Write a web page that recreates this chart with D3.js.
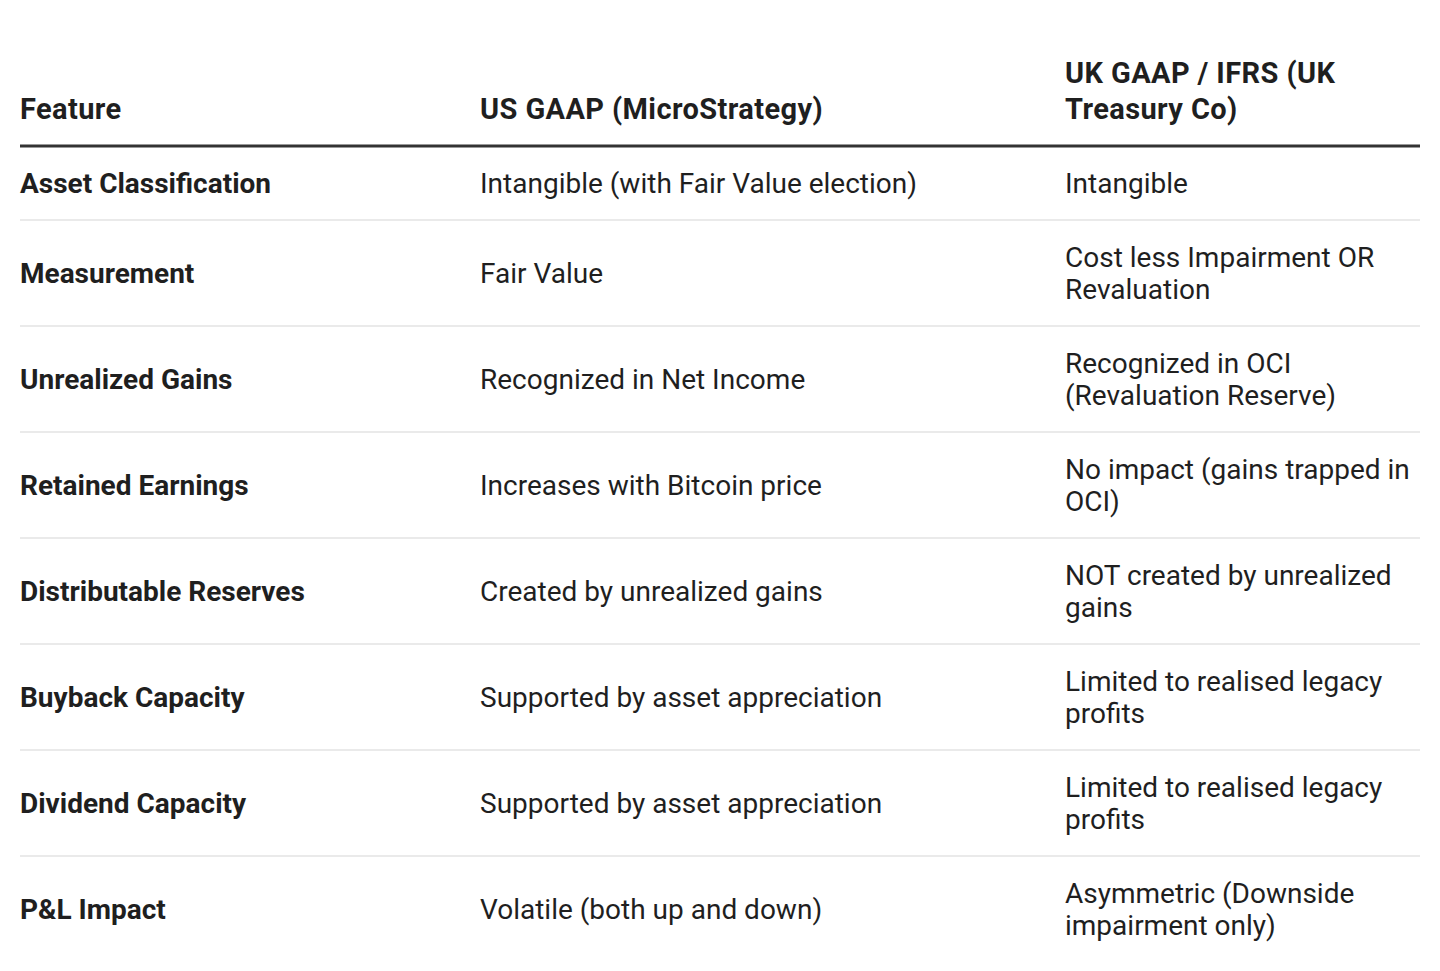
<!DOCTYPE html>
<html lang="en">
<head>
<meta charset="utf-8" />
<title>US GAAP vs UK GAAP</title>
<script src="https://cdn.jsdelivr.net/npm/d3@7/dist/d3.min.js"></script>
<style>
  body { margin: 0; background: #fff; }
  svg { font-family: Roboto, "Noto Sans", sans-serif; }
</style>
</head>
<body>
<div id="table"></div>
<script>
// Table content
const headers = [['Feature'], ['US GAAP (MicroStrategy)'], ['UK GAAP / IFRS (UK', 'Treasury Co)']]
const features = ['Asset Classification', 'Measurement', 'Unrealized Gains', 'Retained Earnings',
  'Distributable Reserves', 'Buyback Capacity', 'Dividend Capacity', 'P&L Impact']
const usGaap = ['Intangible (with Fair Value election)', 'Fair Value', 'Recognized in Net Income',
  'Increases with Bitcoin price', 'Created by unrealized gains', 'Supported by asset appreciation',
  'Supported by asset appreciation', 'Volatile (both up and down)']
const ukGaap = [
  ['Intangible'],
  ['Cost less Impairment OR', 'Revaluation'],
  ['Recognized in OCI', '(Revaluation Reserve)'],
  ['No impact (gains trapped in', 'OCI)'],
  ['NOT created by unrealized', 'gains'],
  ['Limited to realised legacy', 'profits'],
  ['Limited to realised legacy', 'profits'],
  ['Asymmetric (Downside', 'impairment only)']
]

const width = 1440, height = 971
const colX = [20, 480, 1065], right = 1420
const lineH = 32, pad = 42, headBottom = 146

const svg = d3.select('#table').append('svg').attr('width', width).attr('height', height)

// Header, bottom aligned
headers.forEach((lines, i) => {
  const n = lines.length
  svg.append('g').selectAll('text').data(lines).join('text')
    .attr('x', colX[i])
    .attr('y', (d, j) => headBottom - 37 - (n - 1 - j) * 36)
    .attr('dominant-baseline', 'central')
    .attr('font-size', 29).attr('font-weight', 700).attr('fill', '#1f1f1f')
    .attr('letter-spacing', 0.4)
    .text(d => d)
})
svg.append('line').attr('x1', colX[0]).attr('x2', right)
  .attr('y1', headBottom).attr('y2', headBottom)
  .attr('stroke', '#333').attr('stroke-width', 3)

// Rows
let y0 = headBottom
features.forEach((f, i) => {
  const cells = [[f], [usGaap[i]], ukGaap[i]]
  const n = d3.max(cells, c => c.length)
  const h = pad + n * lineH
  const cy = y0 + h / 2
  cells.forEach((lines, c) => {
    svg.append('g').selectAll('text').data(lines).join('text')
      .attr('x', colX[c])
      .attr('y', (d, j) => cy + (j - (lines.length - 1) / 2) * lineH)
      .attr('dominant-baseline', 'central')
      .attr('font-size', 28)
      .attr('font-weight', c === 0 ? 700 : 400)
      .attr('fill', '#1f1f1f')
      .text(d => d)
  })
  y0 += h
  if (i < features.length - 1) {
    svg.append('line').attr('x1', colX[0]).attr('x2', right)
      .attr('y1', y0).attr('y2', y0)
      .attr('stroke', '#e3e3e3').attr('stroke-width', 1.5)
  }
})
</script>
</body>
</html>
